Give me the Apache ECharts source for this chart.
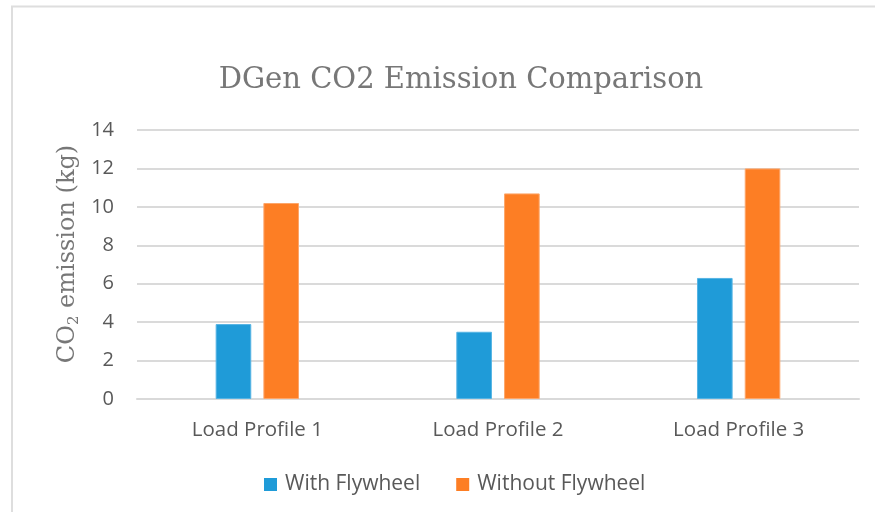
<!DOCTYPE html>
<html>
<head>
<meta charset="utf-8">
<script src="https://cdn.jsdelivr.net/npm/echarts@6/dist/echarts.min.js"></script>
<style>
  html, body { margin: 0; padding: 0; background: #fff; }
  #chart { width: 875px; height: 512px; }
</style>
</head>
<body>
<div id="chart"></div>
<script>
// Load profiles compared
const categories = ['Load Profile 1', 'Load Profile 2', 'Load Profile 3'];
// CO2 emitted by the diesel generator (kg)
const withFlywheel = [3.9, 3.5, 6.3];
const withoutFlywheel = [10.2, 10.7, 12.0];
const seriesNames = ['With Flywheel', 'Without Flywheel'];
const yTicks = { min: 0, max: 14, interval: 2 };

const chart = echarts.init(document.getElementById('chart'));
const sansFont = '"Open Sans", "Noto Sans", sans-serif';
const serifFont = '"DejaVu Serif", "Liberation Serif", serif';
const titleGray = '#777777';
const labelGray = '#595959';

chart.setOption({
  backgroundColor: '#ffffff',
  animation: false,
  graphic: [
    // chart frame
    {
      type: 'rect',
      shape: { x: 12, y: 6.5, width: 900, height: 600 },
      style: { fill: 'none', stroke: '#dedede', lineWidth: 2 },
      silent: true
    },
    // title
    {
      type: 'text',
      x: 461,
      y: 80,
      style: {
        text: 'DGen CO2 Emission Comparison',
        align: 'center',
        verticalAlign: 'middle',
        fontFamily: serifFont,
        fontSize: 29,
        fill: titleGray
      },
      silent: true
    },
    // y axis name with subscript
    {
      type: 'text',
      x: 68,
      y: 254,
      rotation: Math.PI / 2,
      style: {
        text: '{a|CO}{s|2}{a| emission (kg)}',
        align: 'center',
        verticalAlign: 'middle',
        rich: {
          a: { fontFamily: serifFont, fontSize: 24, fill: titleGray },
          s: { fontFamily: serifFont, fontSize: 15, fill: titleGray, padding: [12, 0, 0, 0] }
        }
      },
      silent: true
    }
  ],
  legend: {
    top: 474,
    left: 264,
    padding: 0,
    itemWidth: 13,
    itemHeight: 13,
    itemGap: 36,
    icon: 'rect',
    itemStyle: { borderWidth: 0 },
    textStyle: { fontFamily: sansFont, fontSize: 21, color: labelGray, padding: [0, 0, 0, 3] },
    data: seriesNames
  },
  grid: { left: 137, right: 16, top: 130, bottom: 113 },
  xAxis: {
    type: 'category',
    data: categories,
    axisLine: { show: true, lineStyle: { color: '#d9d9d9', width: 2 } },
    axisTick: { show: false },
    axisLabel: { fontFamily: sansFont, fontSize: 20.5, color: labelGray, margin: 21 }
  },
  yAxis: {
    type: 'value',
    min: yTicks.min,
    max: yTicks.max,
    interval: yTicks.interval,
    axisLine: { show: false },
    axisTick: { show: false },
    axisLabel: { fontFamily: sansFont, fontSize: 20, color: labelGray, margin: 23 },
    splitLine: { lineStyle: { color: '#dadada', width: 2 } }
  },
  series: [
    {
      name: seriesNames[0],
      type: 'bar',
      data: withFlywheel,
      barWidth: '14.8%',
      barGap: '34%',
      itemStyle: { color: '#1f9bd8', borderColor: '#56b4e4', borderWidth: 1 }
    },
    {
      name: seriesNames[1],
      type: 'bar',
      data: withoutFlywheel,
      barWidth: '14.8%',
      barGap: '34%',
      itemStyle: { color: '#fd7e24', borderColor: '#fda66a', borderWidth: 1 }
    }
  ]
});
</script>
</body>
</html>
